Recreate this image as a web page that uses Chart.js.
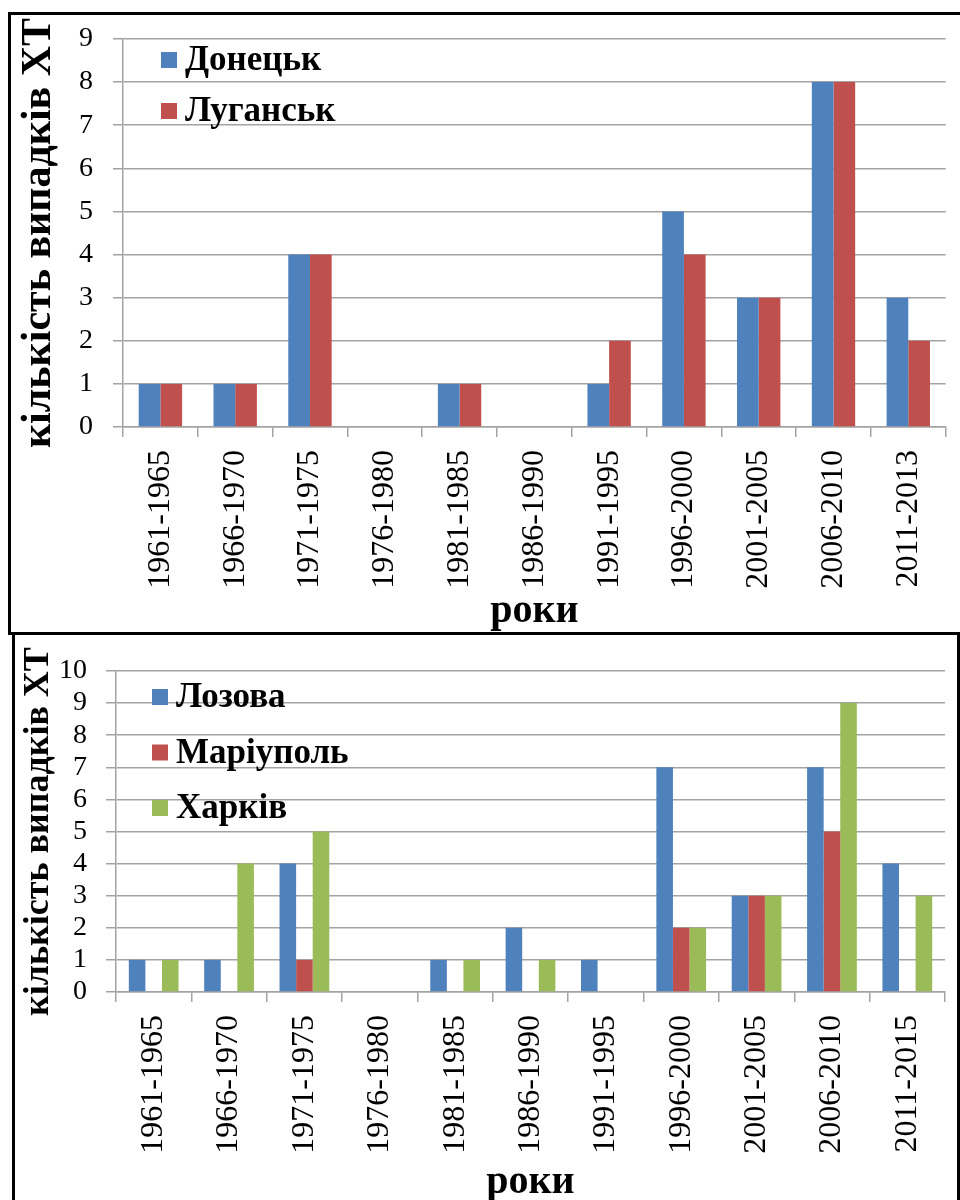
<!DOCTYPE html>
<html lang="uk">
<head>
  <meta charset="UTF-8">
  <title>Кількість випадків ХТ</title>
  <script src="https://cdn.jsdelivr.net/npm/chart.js"></script>
  <style>
    body {
      margin: 0;
      background: #fff;
      width: 960px;
      height: 1200px;
      position: relative;
      overflow: hidden;
    }
    canvas {
      position: absolute;
      left: 0;
    }
    #topChart { top: 0; }
    #bottomChart { top: 634px; }
    .frame {
      position: absolute;
      border: 0 solid #000;
      pointer-events: none;
    }
  </style>
</head>
<body>
  <canvas id="topChart" width="960" height="632"></canvas>
  <canvas id="bottomChart" width="960" height="566"></canvas>

  <!-- frames round the two panels -->
  <div class="frame" style="left:8px; top:12px; width:960px; height:617px; border-width:3px 0 3px 3px;"></div>
  <div class="frame" style="left:12px; top:632px; width:942px; height:580px; border-width:0 3px 0 3px;"></div>

  <script>
    // top chart data
    const periodsTop = ["1961-1965", "1966-1970", "1971-1975", "1976-1980", "1981-1985", "1986-1990",
                        "1991-1995", "1996-2000", "2001-2005", "2006-2010", "2011-2013"];
    const donetsk  = [1, 1, 4, 0, 1, 0, 1, 5, 3, 8, 3];
    const luhansk  = [1, 1, 4, 0, 1, 0, 2, 4, 3, 8, 2];

    // bottom chart data
    const periodsBottom = ["1961-1965", "1966-1970", "1971-1975", "1976-1980", "1981-1985", "1986-1990",
                           "1991-1995", "1996-2000", "2001-2005", "2006-2010", "2011-2015"];
    const lozova   = [1, 1, 4, 0, 1, 2, 1, 7, 3, 7, 4];
    const mariupol = [0, 0, 1, 0, 0, 0, 0, 2, 3, 5, 0];
    const kharkiv  = [1, 4, 5, 0, 1, 1, 0, 2, 3, 9, 3];

    const yTitle = "кількість випадків ХТ";
    const xTitle = "роки";

    const BLUE = "#4f81bd", RED = "#c0504d", GREEN = "#9bbb59";
    const GRID = "#a3a3a3";
    const SERIF = "'Liberation Serif', 'Times New Roman', serif";

    Chart.defaults.font.family = SERIF;
    Chart.defaults.color = "#000";

    // legend drawn inside the plot area, top-left
    const insideLegend = {
      id: "insideLegend",
      afterDraw(chart, args, opts) {
        const ctx = chart.ctx;
        const area = chart.chartArea;
        ctx.save();
        ctx.font = "bold " + opts.size + "px " + SERIF;
        ctx.textBaseline = "middle";
        chart.data.datasets.forEach((ds, i) => {
          const x = area.left + opts.x;
          const y = area.top + opts.y + i * opts.gap;
          ctx.fillStyle = ds.backgroundColor;
          ctx.fillRect(x, y, opts.box, opts.box);
          ctx.fillStyle = "#000";
          ctx.fillText(ds.label, x + opts.box + 8, y + opts.box / 2 + 1);
        });
        ctx.restore();
      }
    };

    function makeChart(id, cfg) {
      return new Chart(document.getElementById(id), {
        type: "bar",
        data: { labels: cfg.labels, datasets: cfg.datasets },
        plugins: [insideLegend],
        options: {
          responsive: false,
          animation: false,
          layout: { padding: { left: 0, top: cfg.padTop, right: cfg.padRight, bottom: 0 } },
          datasets: {
            bar: { barPercentage: 1, categoryPercentage: cfg.catPct, borderWidth: 0 }
          },
          plugins: {
            legend: { display: false },
            tooltip: { enabled: false },
            insideLegend: cfg.legend
          },
          scales: {
            x: {
              afterFit: s => { s.height = cfg.xHeight; },
              grid: { display: true, drawOnChartArea: false, drawTicks: true, tickLength: 10, color: GRID, lineWidth: 1.5 },
              border: { display: true, color: GRID, width: 1.5 },
              ticks: { autoSkip: false, minRotation: 90, maxRotation: 90, padding: 13, font: { size: 32 } },
              title: {
                display: true, text: xTitle,
                font: { size: 40, weight: "bold", lineHeight: cfg.xTitleLH },
                padding: 0
              }
            },
            y: {
              min: 0, max: cfg.yMax,
              afterFit: s => { s.width = cfg.yWidth; },
              grid: { color: GRID, lineWidth: 1.5, drawTicks: true, tickLength: 10 },
              border: { display: true, color: GRID, width: 1.5 },
              ticks: { stepSize: 1, autoSkip: false, padding: cfg.yTickPad, font: { size: 28 } },
              title: {
                display: true, text: yTitle,
                font: { size: cfg.yTitleSize, weight: "bold", lineHeight: 1 },
                padding: { top: cfg.yTitlePad, bottom: 0 }
              }
            }
          }
        }
      });
    }

    makeChart("topChart", {
      labels: periodsTop,
      datasets: [
        { label: "Донецьк", data: donetsk, backgroundColor: BLUE },
        { label: "Луганськ", data: luhansk, backgroundColor: RED }
      ],
      padTop: 39, padRight: 7, catPct: 0.58,
      xHeight: 205, yWidth: 123, yMax: 9, yTickPad: 20,
      yTitleSize: 42, yTitlePad: 18, xTitleLH: 1,
      legend: { x: 38, y: 13, gap: 51, box: 16, size: 35 }
    });

    makeChart("bottomChart", {
      labels: periodsBottom,
      datasets: [
        { label: "Лозова", data: lozova, backgroundColor: BLUE },
        { label: "Маріуполь", data: mariupol, backgroundColor: RED },
        { label: "Харків", data: kharkiv, backgroundColor: GREEN }
      ],
      padTop: 37, padRight: 15, catPct: 0.66,
      xHeight: 208, yWidth: 116, yMax: 10, yTickPad: 19,
      yTitleSize: 36, yTitlePad: 21, xTitleLH: 0.85,
      legend: { x: 36, y: 18, gap: 55.5, box: 16, size: 35 }
    });
  </script>
</body>
</html>
